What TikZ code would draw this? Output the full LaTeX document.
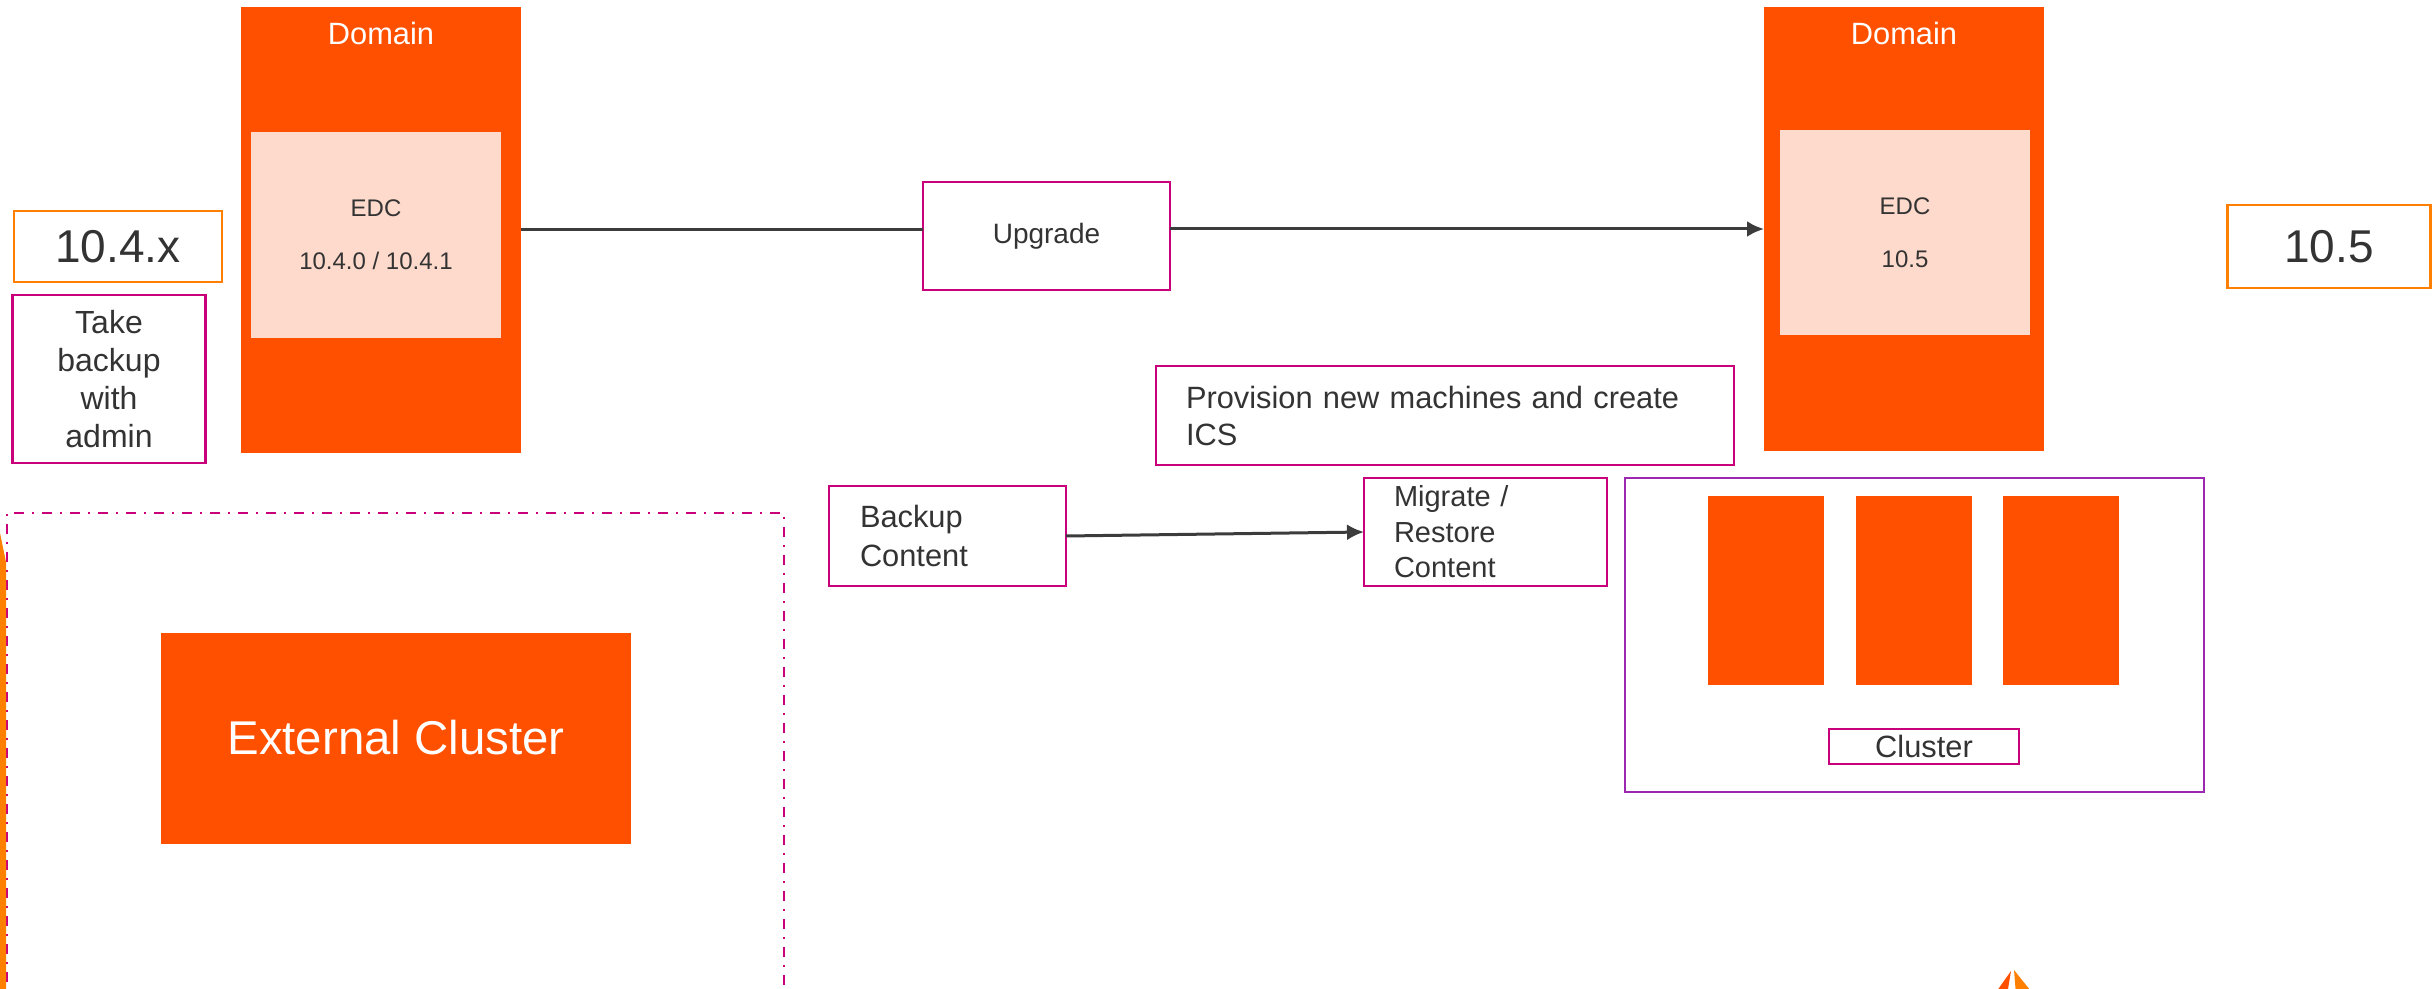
\documentclass[tikz,border=0pt]{standalone}
\usepackage{fontspec}
\setmainfont{Liberation Sans}
\usetikzlibrary{arrows.meta,calc}
\definecolor{orfill}{RGB}{255,80,0}
\definecolor{peach}{RGB}{253,218,203}
\definecolor{mag}{RGB}{200,0,122}
\definecolor{verorange}{RGB}{255,128,0}
\definecolor{purp}{RGB}{156,39,176}
\definecolor{txt}{RGB}{51,51,51}
\definecolor{lincol}{RGB}{60,60,60}
\begin{document}
\begin{tikzpicture}[x=0.5pt,y=-0.5pt,
  every node/.style={inner sep=0pt, outer sep=0pt, text=txt},
  domainbox/.style={fill=orfill, minimum width=140pt, minimum height=223pt},
  domlabel/.style={text=white, font=\fontsize{15.4}{18}\selectfont},
  edcbox/.style={fill=peach, minimum width=125pt, minimum height=103pt, align=center, font=\fontsize{12}{26.5}\selectfont},
  verbox/.style={draw=verorange, line width=1.4pt, font=\fontsize{23}{27}\selectfont},
  magbox/.style={draw=mag, line width=1.4pt},
  leftbox/.style={magbox, align=left},
  clusbox/.style={draw=purp, line width=1.4pt, minimum width=289.5pt, minimum height=157pt},
  srvbox/.style={fill=orfill, minimum width=58pt, minimum height=94.5pt},
  conn/.style={draw=lincol, line width=1.5pt},
  tip/.style={-{Latex[length=8.5pt,width=8pt]}}
]
\useasboundingbox (0,0) rectangle (2432,989);
\begin{scope}
\clip (0,0) rectangle (2432,989);
% dash-dot region
\draw[mag, line width=1.2pt, dash pattern=on 5pt off 4pt on 1pt off 4pt] (7,1010) -- (7,513) -- (784,513) -- (784,1010);
% left orange edge bar
\fill[verorange] (0,533) -- (6,562) -- (6,1000) -- (0,1000) -- cycle;
% bottom logo fragment
\fill[orfill] (2011,971) -- (1994,995) -- (2007,995) -- cycle;
\fill[verorange] (2014,970) -- (2016,995) -- (2034,995) -- cycle;

% left domain
\node[domainbox] (dom1) at (381,230) {};
\node[domlabel] (dl1) at (381,33) {Domain};
\node[edcbox] (edc1) at (376,235) {EDC\\10.4.0 / 10.4.1};

% right domain
\node[domainbox, minimum height=222pt] (dom2) at (1904,229) {};
\node[domlabel] (dl2) at (1904,33) {Domain};
\node[edcbox, minimum height=102.5pt] (edc2) at (1905,232.5) {EDC\\10.5};

% versions
\node[verbox, minimum width=104pt, minimum height=35.5pt] (v104) at (118,246.5) {10.4.x};
\node[verbox, minimum width=101.5pt, minimum height=41.5pt] (v105) at (2329,246.5) {10.5};

% take backup
\node[magbox, minimum width=96.5pt, minimum height=84pt, align=center, font=\fontsize{16}{19}\selectfont] (take) at (109,379) {Take\\backup\\with\\admin};

% upgrade
\node[magbox, minimum width=123.5pt, minimum height=54pt, font=\fontsize{14}{17}\selectfont] (upg) at (1046.5,236) {Upgrade};

% provision
\node[leftbox, inner xsep=15pt, text width=259pt, minimum height=49.5pt, font=\fontsize{15.4}{18.5}\selectfont] (prov) at (1445,415.5) {Provision new machines and create\\ICS};

% backup content
\node[leftbox, inner xsep=15.5pt, text width=87.5pt, minimum height=50pt, font=\fontsize{15.4}{19.5}\selectfont] (bk) at (947.5,536) {Backup\\Content};

% migrate
\node[leftbox, inner xsep=15pt, text width=91.5pt, minimum height=54pt, font=\fontsize{14.5}{17.75}\selectfont] (mig) at (1485.5,532) {Migrate /\\Restore\\Content};

% external cluster
\node[fill=orfill, minimum width=235pt, minimum height=105.5pt, text=white, font=\fontsize{23.7}{28}\selectfont] (ext) at (396,738) {External Cluster};

% cluster
\node[clusbox] (clus) at (1914.5,635) {};
\node[srvbox] (s1) at (1766,590.5) {};
\node[srvbox] (s2) at (1914,590.5) {};
\node[srvbox] (s3) at (2061,590.5) {};
\node[magbox, minimum width=95pt, minimum height=17.5pt, font=\fontsize{15.4}{17}\selectfont] (clab) at (1924,746.5) {Cluster};

% connectors
\draw[conn] (dom1.east) -- (dom1.east -| upg.west);
\draw[conn, tip] (upg.east |- dom2.west) -- (dom2.west);
\draw[conn, tip] (bk.east) -- (mig.west);
\end{scope}
\end{tikzpicture}
\end{document}
